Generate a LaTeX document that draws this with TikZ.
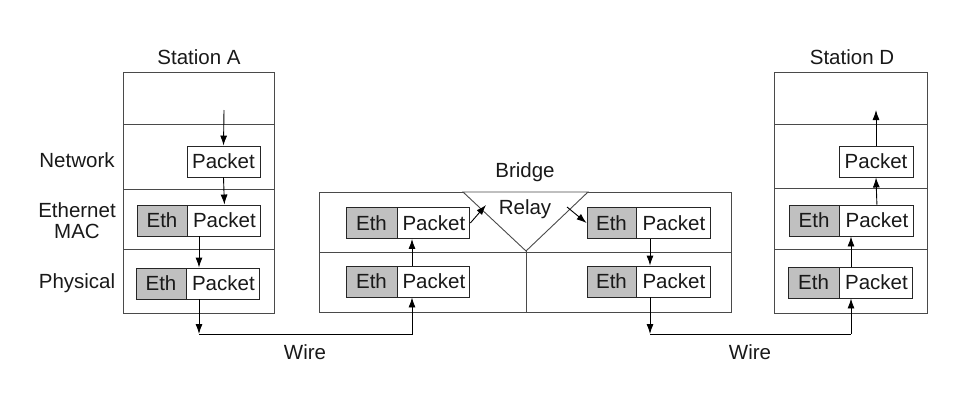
\documentclass[tikz,border=0pt]{standalone}
\usepackage{fontspec}
\setmainfont{Liberation Sans}
\usetikzlibrary{arrows.meta}
\definecolor{ethgray}{HTML}{C0C0C0}
\definecolor{linegray}{HTML}{4A4A4A}
\begin{document}
\begin{tikzpicture}[x=1pt,y=-1pt,
  txt/.style={font=\fontsize{20.5}{21}\selectfont, text=black!90, align=center, inner sep=0pt},
  ethbox/.style={txt, draw=black!85, fill=ethgray, minimum width=50pt, minimum height=31pt, line width=0.9pt},
  pktbox/.style={txt, draw=black!85, fill=white, minimum width=73pt, minimum height=31pt, line width=0.9pt},
  frame/.style={draw=linegray, line width=0.9pt},
  arr/.style={draw=black, line width=0.9pt, -{Latex[length=10pt,width=7pt]}},
  wire/.style={draw=black, line width=0.9pt}]
\useasboundingbox (0,0) rectangle (976,405);

% ---------- Station A ----------
\draw[frame] (123,72) rectangle (274,313);
\draw[frame] (123,124) -- (274,124) (123,189) -- (274,189) (123,249) -- (274,249);
\node[txt] (labA) at (199,57) {Station A};
\node[txt] (lnet) at (77,160) {Network};
\node[txt] (lmac) at (77,221) {Ethernet\\MAC};
\node[txt] (lphy) at (77,283) {Physical};

\node[pktbox] (APkt) at (223.5,161.5) {Packet};
\node[ethbox] (AMacE) at (162,220.5) {Eth};
\node[pktbox, anchor=west] (AMacP) at (AMacE.east) {Packet};
\node[ethbox] (APhyE) at (161,283.5) {Eth};
\node[pktbox, anchor=west] (APhyP) at (APhyE.east) {Packet};

\coordinate (Atop) at (224,110);
\coordinate (Ax) at (199,0);
\coordinate (w1) at (199,334);
\coordinate (w2) at (412,334);

\draw[arr] (Atop) -- (APkt.north);
\draw[arr] (APkt.south) -- (AMacP.north);
\draw[arr] (AMacP.south -| Ax) -- (APhyP.north -| Ax);
\draw[arr] (APhyP.south -| Ax) -- (w1);

% ---------- Bridge ----------
\node[txt] (labB) at (525,172) {Bridge};
\draw[frame] (319,192) rectangle (731,312);
\draw[frame] (319,252) -- (731,252);
\draw[frame, fill=white] (463,192) -- (526,251) -- (588,192) -- cycle;
\draw[frame] (526,251) -- (526,312);
\node[txt] (relay) at (525,209) {Relay};

\node[ethbox, minimum width=51pt] (BLupE) at (371.5,223) {Eth};
\node[pktbox, minimum width=72pt, anchor=west] (BLupP) at (BLupE.east) {Packet};
\node[ethbox, minimum width=51pt] (BLloE) at (371.5,281.5) {Eth};
\node[pktbox, minimum width=72pt, anchor=west] (BLloP) at (BLloE.east) {Packet};

\node[ethbox, minimum width=49pt] (BRupE) at (611.5,223) {Eth};
\node[pktbox, minimum width=74pt, anchor=west] (BRupP) at (BRupE.east) {Packet};
\node[ethbox, minimum width=49pt] (BRloE) at (611.5,281.5) {Eth};
\node[pktbox, minimum width=74pt, anchor=west] (BRloP) at (BRloE.east) {Packet};

\coordinate (Bx) at (412,0);
\coordinate (Cx) at (650,0);
\coordinate (rin) at (486,205);
\coordinate (rout) at (567,207);
\coordinate (w3) at (650,334);
\coordinate (w4) at (851,334);

\draw[arr] (w1) -- (w2) -- (BLloP.south -| Bx);
\draw[arr] (BLloP.north -| Bx) -- (BLupP.south -| Bx);
\draw[arr] (BLupP.east) -- (rin);
\draw[arr] (rout) -- (BRupE.west);
\draw[arr] (BRupP.south -| Cx) -- (BRloP.north -| Cx);
\draw[arr] (BRloP.south -| Cx) -- (w3);

% ---------- Station D ----------
\node[txt] (labD) at (852,57) {Station D};
\draw[frame] (774,72) rectangle (927,313);
\draw[frame] (774,124) -- (927,124) (774,188) -- (927,188) (774,249) -- (927,249);

\node[pktbox, minimum width=74pt] (DPkt) at (876,161.5) {Packet};
\node[ethbox] (DMacE) at (814,220.5) {Eth};
\node[pktbox, minimum width=74pt, anchor=west] (DMacP) at (DMacE.east) {Packet};
\node[ethbox, minimum width=51pt] (DPhyE) at (813.5,282.5) {Eth};
\node[pktbox, anchor=west] (DPhyP) at (DPhyE.east) {Packet};

\coordinate (Dx) at (851,0);
\coordinate (Dtop) at (876,110);

\draw[wire] (w3) -- (w4);
\draw[arr] (w4) -- (DPhyP.south -| Dx);
\draw[arr] (DPhyP.north -| Dx) -- (DMacP.south -| Dx);
\draw[arr] (DMacP.north) -- (DPkt.south);
\draw[arr] (DPkt.north) -- (Dtop);

% ---------- Wire labels ----------
\node[txt] (wireL) at (305,352) {Wire};
\node[txt] (wireR) at (750,352) {Wire};
\end{tikzpicture}
\end{document}
